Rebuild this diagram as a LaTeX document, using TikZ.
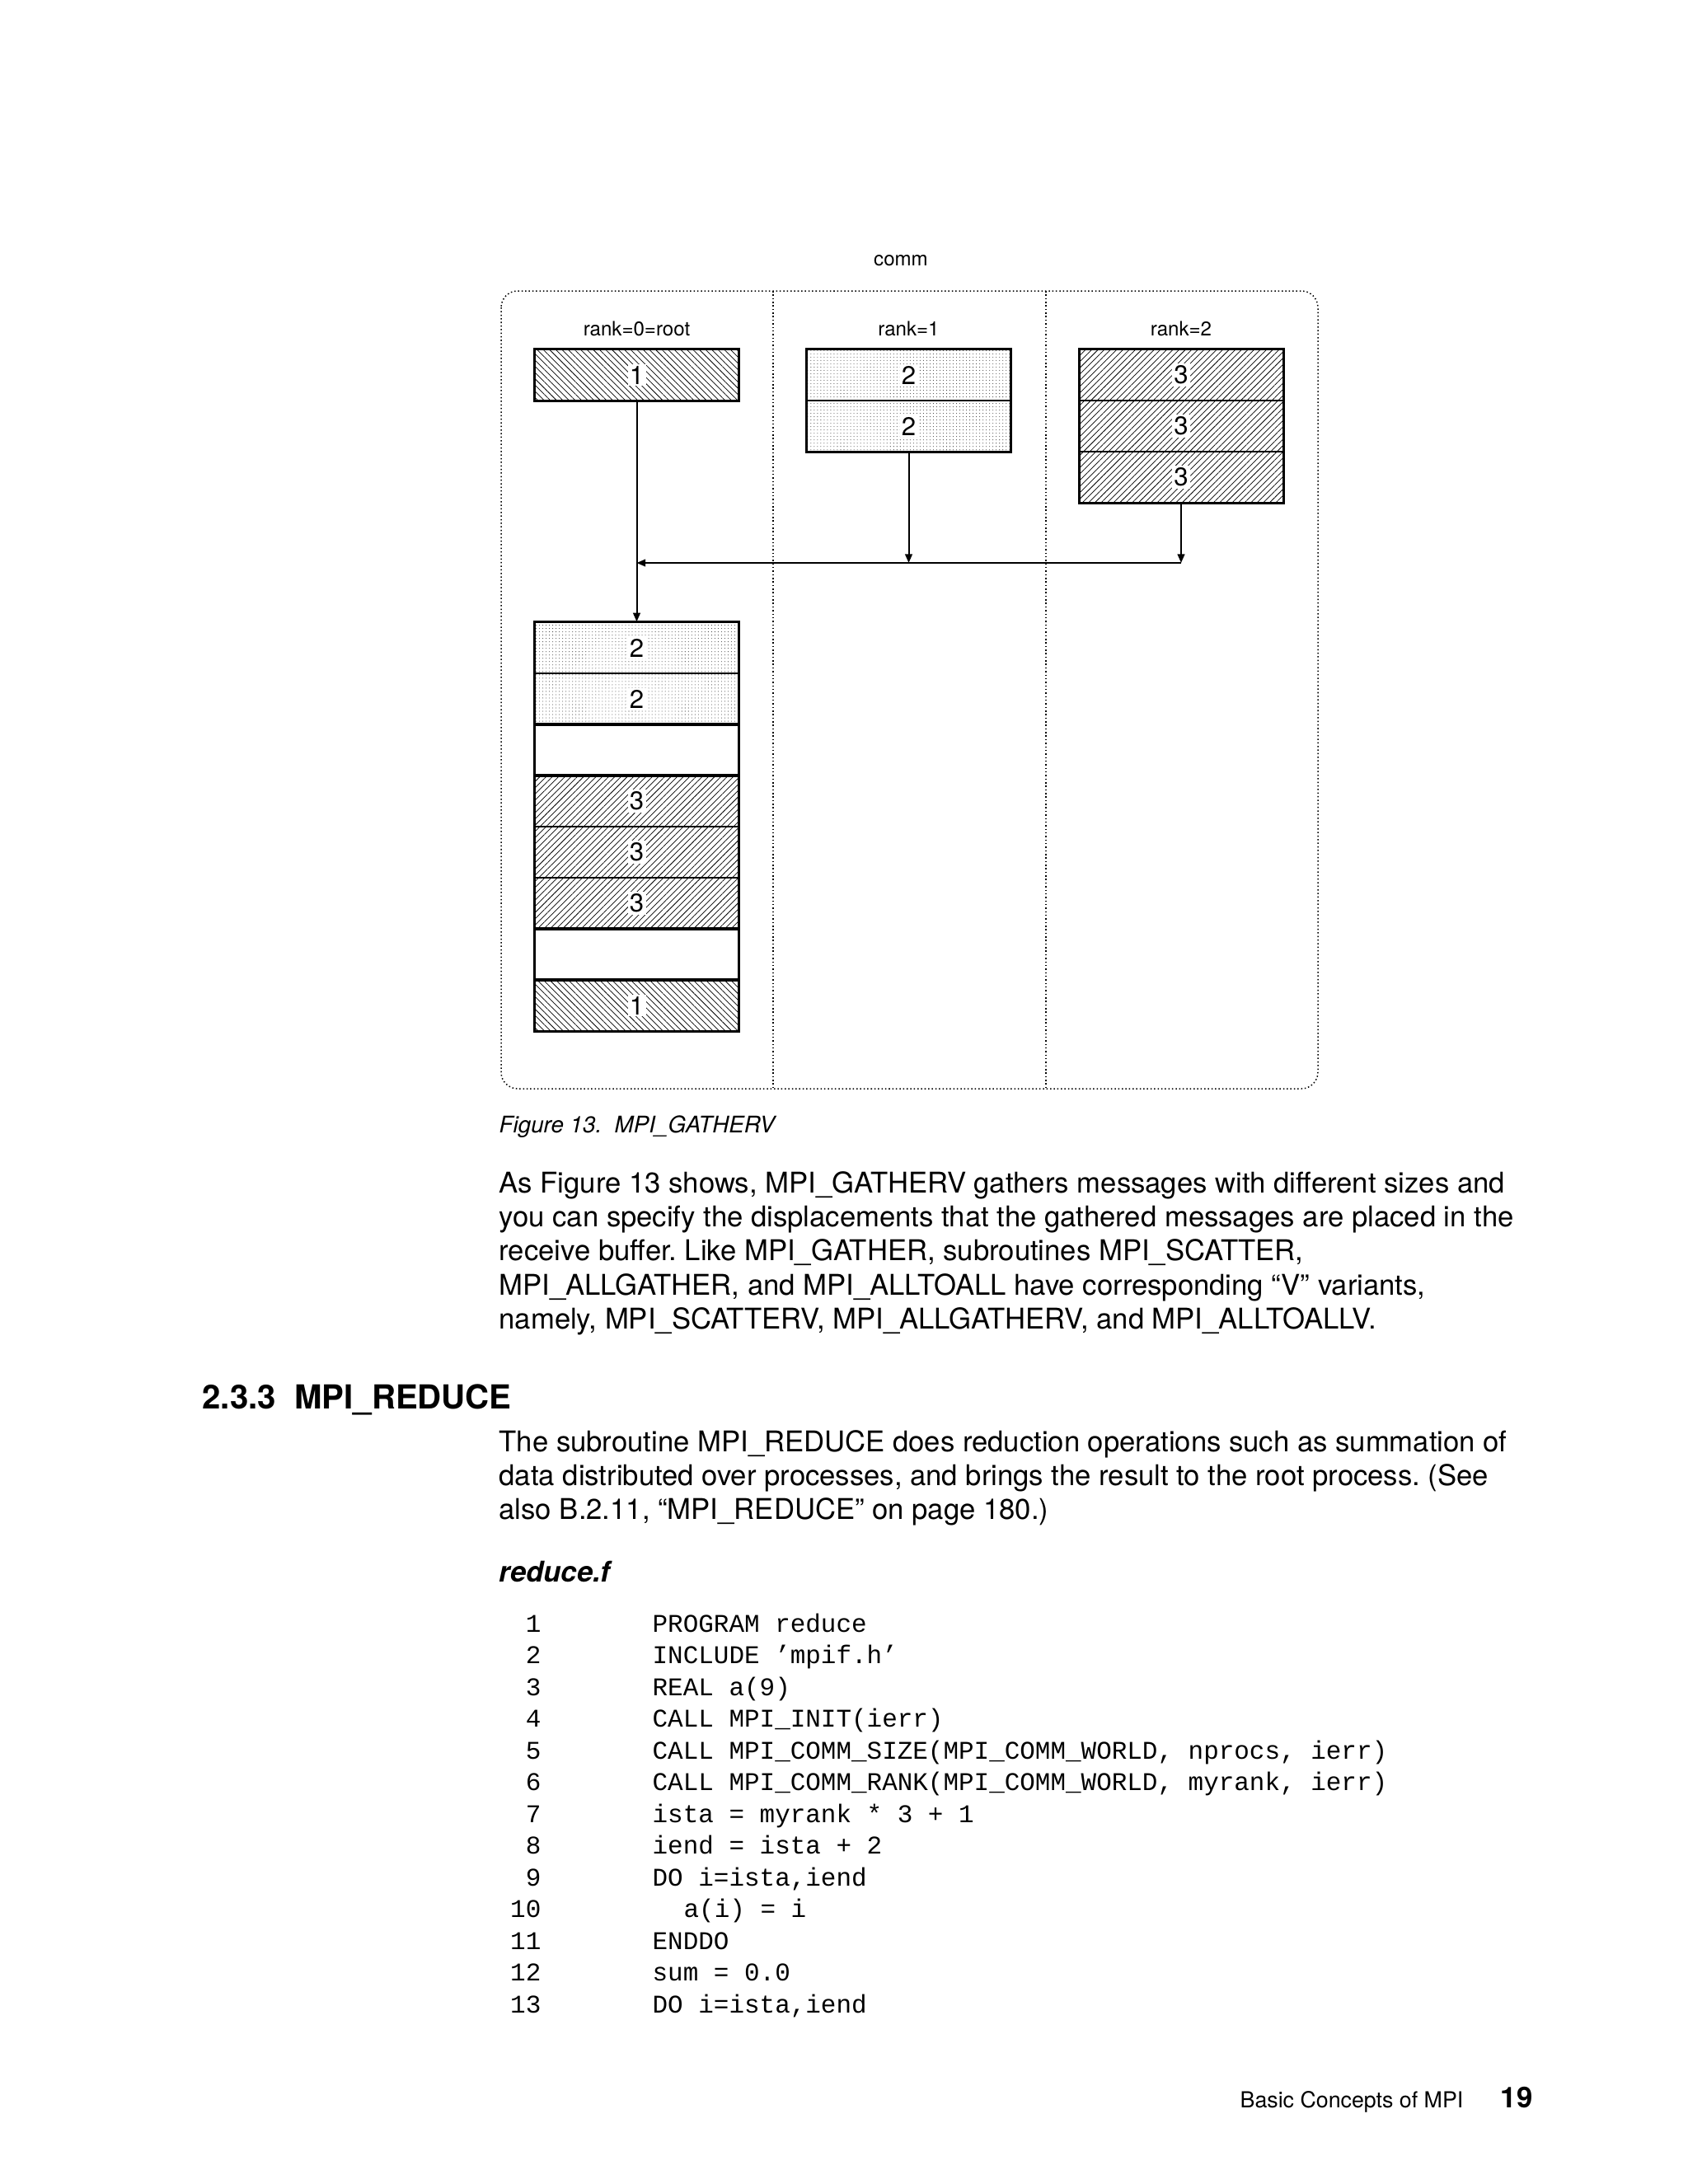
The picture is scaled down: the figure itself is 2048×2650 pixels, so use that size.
\documentclass[tikz,border=0pt]{standalone}
\usepackage{fontspec}
\setmainfont{TeX Gyre Heros}
\setmonofont{Liberation Mono}
\usetikzlibrary{patterns.meta,arrows.meta}
\frenchspacing
\begin{document}
\begin{tikzpicture}[x=0.298828pt,y=-0.298828pt,
  cellbox/.style={draw, line width=0.4pt, inner sep=0pt, minimum width=73.81pt, minimum height=18.53pt},
  hatchA/.style={pattern={Lines[angle=-45,distance=1.6pt,line width=0.22pt]}},
  hatchB/.style={pattern={Lines[angle=45,distance=1.6pt,line width=0.22pt]}},
  dotsC/.style={pattern={Dots[distance=1.2pt,radius=0.16pt]}, pattern color=black!75},
  digit/.style={fill=white, inner sep=0.7pt, font=\fontsize{9.3}{10}\selectfont},
  grp/.style={draw, line width=0.85pt},
  arr/.style={line width=0.6pt, -{Triangle[length=3.2pt,width=2.6pt]}},
  frameline/.style={line width=0.45pt, dash pattern=on 0.45pt off 0.85pt},
  lbl/.style={inner sep=0pt, font=\fontsize{7.2}{8}\selectfont},
  body/.style={anchor=base west, inner sep=0pt, font=\fontsize{10.36}{12}\selectfont},
  codeline/.style={anchor=base west, inner sep=0pt, font=\fontsize{9.25}{11}\ttfamily},
  lnum/.style={anchor=base east, inner sep=0pt, font=\fontsize{9.25}{11}\ttfamily}]
\useasboundingbox (0,0) rectangle (2048,2650);
\fill[white] (0,0) rectangle (2048,2650);

% frame
\draw[frameline, rounded corners=6pt] (608,353) rectangle (1599,1321);
\draw[frameline] (938,353) -- (938,1321);
\draw[frameline] (1269,353) -- (1269,1321);
\node[lbl] (comm) at (1093,316) {comm};
\node[lbl] (lab0) at (772.5,399) {rank=0=root};
\node[lbl] (lab1) at (1102.5,399) {rank=1};
\node[lbl] (lab2) at (1433,399) {rank=2};

% senders
\node[cellbox, hatchA] (r0a) at (772.5,455) {};
\node[cellbox, dotsC] (r1a) at (1102.5,455) {};
\node[cellbox, dotsC] (r1b) at (1102.5,517) {};
\node[cellbox, hatchB] (r2a) at (1433,455) {};
\node[cellbox, hatchB] (r2b) at (1433,517) {};
\node[cellbox, hatchB] (r2c) at (1433,579) {};
\draw[grp] (r0a.north west) rectangle (r0a.south east);
\draw[grp] (r1a.north west) rectangle (r1b.south east);
\draw[grp] (r2a.north west) rectangle (r2c.south east);
\node[digit] at (r0a) {1};
\node[digit] at (r1a) {2};
\node[digit] at (r1b) {2};
\node[digit] at (r2a) {3};
\node[digit] at (r2b) {3};
\node[digit] at (r2c) {3};

% receive buffer
\node[cellbox, dotsC] (b1) at (772.5,786) {};
\node[cellbox, dotsC] (b2) at (772.5,848) {};
\node[cellbox] (b3) at (772.5,910) {};
\node[cellbox, hatchB] (b4) at (772.5,972) {};
\node[cellbox, hatchB] (b5) at (772.5,1034) {};
\node[cellbox, hatchB] (b6) at (772.5,1096) {};
\node[cellbox] (b7) at (772.5,1158) {};
\node[cellbox, hatchA] (b8) at (772.5,1220) {};
\draw[grp] (b1.north west) rectangle (b2.south east);
\draw[grp] (b3.north west) rectangle (b3.south east);
\draw[grp] (b4.north west) rectangle (b6.south east);
\draw[grp] (b7.north west) rectangle (b7.south east);
\draw[grp] (b8.north west) rectangle (b8.south east);
\node[digit] at (b1) {2};
\node[digit] at (b2) {2};
\node[digit] at (b4) {3};
\node[digit] at (b5) {3};
\node[digit] at (b6) {3};
\node[digit] at (b8) {1};

% connectors
\coordinate (hl) at (1102.5,683);
\draw[arr] (r1b.south) -- (r1b.south |- hl);
\draw[arr] (r2c.south) -- (r2c.south |- hl);
\draw[arr] (r2c.south |- hl) -- (r0a.south |- hl);
\draw[arr] (r0a.south) -- (b1.north);

% caption and text
\node[anchor=base west, inner sep=0pt, font=\fontsize{8.3}{10}\itshape] (cap) at (605,1374) {Figure 13.\ \ MPI\_GATHERV};

\node[body] (p1) at (605,1447) {As Figure 13 shows, MPI\_GATHERV gathers messages with different sizes and};
\node[body] (p2) at (605,1488.4) {you can specify the displacements that the gathered messages are placed in the};
\node[body] (p3) at (605,1529.8) {receive buffer. Like MPI\_GATHER, subroutines MPI\_SCATTER,};
\node[body] (p4) at (605,1571.2) {MPI\_ALLGATHER, and MPI\_ALLTOALL have corresponding “V” variants,};
\node[body] (p5) at (605,1612.6) {namely, MPI\_SCATTERV, MPI\_ALLGATHERV, and MPI\_ALLTOALLV.};

\node[anchor=base west, inner sep=0pt, font=\fontsize{12}{14}\bfseries] (head) at (245,1709) {2.3.3\ \ MPI\_REDUCE};

\node[body] (q1) at (605,1761) {The subroutine MPI\_REDUCE does reduction operations such as summation of};
\node[body] (q2) at (605,1802.4) {data distributed over processes, and brings the result to the root process. (See};
\node[body] (q3) at (605,1843.8) {also B.2.11, “MPI\_REDUCE” on page 180.)};

\node[anchor=base west, inner sep=0pt, font=\fontsize{10.36}{12}\bfseries\itshape] (fname) at (605,1919) {reduce.f};

% code
\node[lnum] (n1) at (657,1980) {1};
\node[lnum] (n2) at (657,2018.5) {2};
\node[lnum] (n3) at (657,2057) {3};
\node[lnum] (n4) at (657,2095.5) {4};
\node[lnum] (n5) at (657,2134) {5};
\node[lnum] (n6) at (657,2172.5) {6};
\node[lnum] (n7) at (657,2211) {7};
\node[lnum] (n8) at (657,2249.5) {8};
\node[lnum] (n9) at (657,2288) {9};
\node[lnum] (n10) at (657,2326.5) {10};
\node[lnum] (n11) at (657,2365) {11};
\node[lnum] (n12) at (657,2403.5) {12};
\node[lnum] (n13) at (657,2442) {13};
\node[codeline] (c1) at (791,1980) {PROGRAM reduce};
\node[codeline] (c2) at (791,2018.5) {INCLUDE ’mpif.h’};
\node[codeline] (c3) at (791,2057) {REAL a(9)};
\node[codeline] (c4) at (791,2095.5) {CALL MPI\_INIT(ierr)};
\node[codeline] (c5) at (791,2134) {CALL MPI\_COMM\_SIZE(MPI\_COMM\_WORLD, nprocs, ierr)};
\node[codeline] (c6) at (791,2172.5) {CALL MPI\_COMM\_RANK(MPI\_COMM\_WORLD, myrank, ierr)};
\node[codeline] (c7) at (791,2211) {ista = myrank * 3 + 1};
\node[codeline] (c8) at (791,2249.5) {iend = ista + 2};
\node[codeline] (c9) at (791,2288) {DO i=ista,iend};
\node[codeline] (c10) at (829,2326.5) {a(i) = i};
\node[codeline] (c11) at (791,2365) {ENDDO};
\node[codeline] (c12) at (791,2403.5) {sum = 0.0};
\node[codeline] (c13) at (791,2442) {DO i=ista,iend};

% footer
\node[anchor=base west, inner sep=0pt, font=\fontsize{8}{10}\selectfont] (foot) at (1504,2557) {Basic Concepts of MPI};
\node[anchor=base west, inner sep=0pt, font=\fontsize{10.4}{12}\bfseries] (page) at (1820,2557) {19};
\end{tikzpicture}
\end{document}
